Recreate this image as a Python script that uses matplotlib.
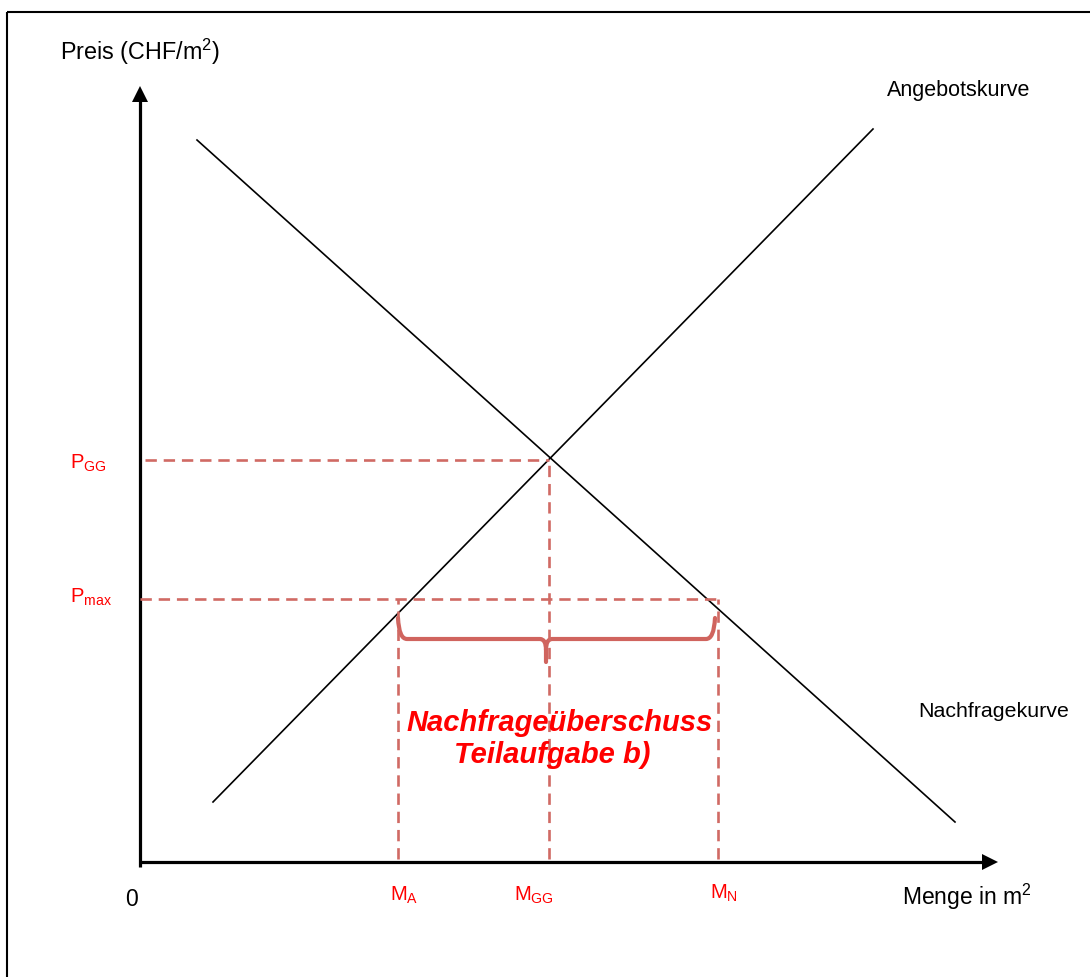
import matplotlib
matplotlib.use("Agg")
import matplotlib.pyplot as plt
from matplotlib.patches import Polygon, PathPatch
from matplotlib.path import Path

plt.rcParams['font.family'] = ['Liberation Sans', 'DejaVu Sans']
plt.rcParams['mathtext.fontset'] = 'custom'
plt.rcParams['mathtext.rm'] = 'Liberation Sans'
plt.rcParams['mathtext.it'] = 'Liberation Sans:italic'
plt.rcParams['mathtext.bf'] = 'Liberation Sans:bold'

# ---- data (quantity / price units, origin at 0) ----
supply_q = [73, 733]
supply_p = [60, 733]
demand_q = [57, 815]
demand_p = [722, 40]
p_gg = 402
p_max = 263
m_a = 258
m_gg = 409
m_n = 578
price_labels = [r'$\mathregular{P_{GG}}$', r'$\mathregular{P_{max}}$']
qty_labels = [r'$\mathregular{M_{A}}$', r'$\mathregular{M_{GG}}$', r'$\mathregular{M_{N}}$']

BLACK = '#000000'
DASH = '#D06A64'
BRACE = '#D0645E'
RED = '#FF0000'

fig = plt.figure(figsize=(10.9, 9.78), dpi=100)
ax = fig.add_axes([0, 0, 1, 1])
ax.set_xlim(-140, 950)
ax.set_ylim(-115, 863)
ax.axis('off')

# frame (top and left border)
ax.plot([-133, 950], [850, 850], color=BLACK, lw=1.5, solid_capstyle='butt')
ax.plot([-133, -133], [850, -115], color=BLACK, lw=1.5, solid_capstyle='butt')

# axes with arrows
ax.plot([0, 0], [-5, 762], color=BLACK, lw=2.3, solid_capstyle='butt')
ax.add_patch(Polygon([[-8, 760], [8, 760], [0, 776]], closed=True, color=BLACK, lw=0))
ax.plot([0, 844], [0, 0], color=BLACK, lw=2.3, solid_capstyle='butt')
ax.add_patch(Polygon([[842, -8], [842, 8], [858, 0]], closed=True, color=BLACK, lw=0))

# curves
ax.plot(supply_q, supply_p, color=BLACK, lw=1.2)
ax.plot(demand_q, demand_p, color=BLACK, lw=1.2)

# dashed guide lines
dkw = dict(color=DASH, lw=1.9, dashes=(4.3, 2.6))
ax.plot([5, m_gg], [p_gg, p_gg], **dkw)
ax.plot([0, m_n + 4], [p_max, p_max], **dkw)
ax.plot([m_a, m_a], [3, p_max], **dkw)
ax.plot([m_gg, m_gg], [3, p_gg], **dkw)
ax.plot([m_n, m_n], [3, p_max], **dkw)

# curly brace
yt, yb, ytip = 244, 223, 200
xl, xr, xm = m_a, m_n - 3, 406
verts = [(xl, yt), (xl + 1, yb), (xl + 9, yb), (xm - 6, yb), (xm, yb), (xm, yb - 11), (xm, ytip),
         (xm, yb - 11), (xm, yb), (xm + 6, yb), (xr - 9, yb), (xr - 1, yb), (xr, yt)]
codes = [Path.MOVETO, Path.CURVE3, Path.CURVE3, Path.LINETO, Path.CURVE3, Path.CURVE3, Path.LINETO,
         Path.MOVETO, Path.CURVE3, Path.CURVE3, Path.LINETO, Path.CURVE3, Path.CURVE3]
ax.add_patch(PathPatch(Path(verts, codes), fill=False, edgecolor=BRACE, lw=3.0,
                       capstyle='round', joinstyle='round'))

# texts
ax.text(-80, 803, r'Preis (CHF/m$^{2}$)', fontsize=16.8, color=BLACK, ha='left', va='baseline')
ax.text(747, 767, 'Angebotskurve', fontsize=15.5, color=BLACK, ha='left', va='baseline')
ax.text(778, 146, 'Nachfragekurve', fontsize=15.4, color=BLACK, ha='left', va='baseline')
ax.text(-9, -43, '0', fontsize=16.5, color=BLACK, ha='center', va='baseline')
ax.text(762, -42, r'Menge in m$^{2}$', fontsize=16.5, color=BLACK, ha='left', va='baseline')

ax.text(420, 132, 'Nachfrageüberschuss', fontsize=21, color=RED, fontweight='bold',
        fontstyle='italic', ha='center', va='baseline')
ax.text(412, 100, 'Teilaufgabe b)', fontsize=21, color=RED, fontweight='bold',
        fontstyle='italic', ha='center', va='baseline')

ax.text(-70, 863 - 469, price_labels[0], fontsize=14.5, color=RED, ha='left', va='baseline')
ax.text(-70, 863 - 603, price_labels[1], fontsize=14.5, color=RED, ha='left', va='baseline')

ax.text(250, 863 - 901, qty_labels[0], fontsize=14.5, color=RED, ha='left', va='baseline')
ax.text(374, 863 - 901, qty_labels[1], fontsize=14.5, color=RED, ha='left', va='baseline')
ax.text(570, 863 - 899, qty_labels[2], fontsize=14.5, color=RED, ha='left', va='baseline')

fig.savefig('out.png', dpi=100, facecolor='white')
